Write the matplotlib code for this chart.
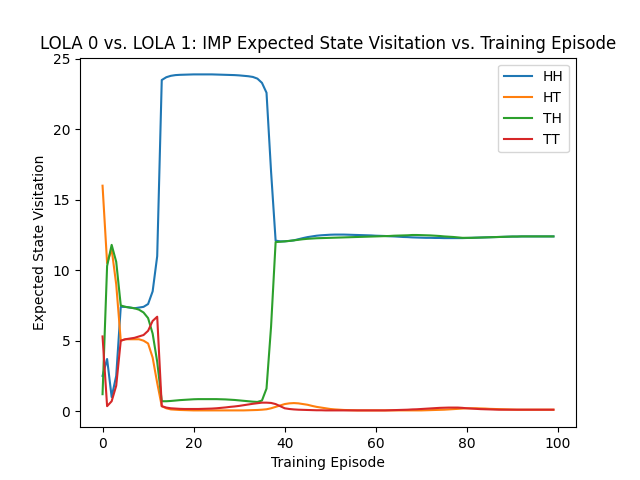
import matplotlib
matplotlib.use("Agg")
import matplotlib.pyplot as plt

episodes = list(range(100))
hh = [2.5, 3.7, 1.0, 2.5, 7.4, 7.4, 7.35, 7.3, 7.35, 7.4, 7.6, 8.5, 11.0, 23.5,
      23.7, 23.8, 23.85, 23.87, 23.88, 23.89, 23.9, 23.9, 23.9, 23.9, 23.9, 23.89, 23.88,
      23.87, 23.86, 23.85, 23.83, 23.8, 23.77, 23.72, 23.6, 23.3, 22.6, 17.0, 12.1,
      12.05, 12.05, 12.08, 12.12, 12.2, 12.28, 12.35, 12.4, 12.45, 12.48, 12.5, 12.52,
      12.53, 12.53, 12.53, 12.52, 12.51, 12.5, 12.49, 12.48, 12.47, 12.45, 12.44, 12.43,
      12.41, 12.4, 12.38, 12.36, 12.35, 12.33, 12.32, 12.31, 12.3, 12.3, 12.29, 12.29,
      12.28, 12.28, 12.28, 12.28, 12.28, 12.29, 12.3, 12.31, 12.32, 12.33, 12.34, 12.35,
      12.36, 12.37, 12.38, 12.39, 12.39, 12.4, 12.4, 12.4, 12.4, 12.4, 12.4, 12.4, 12.4]
ht = [16.0, 10.5, 11.5, 9.0, 5.0, 5.1, 5.1, 5.1, 5.1, 5.0, 4.8, 3.8, 2.0, 0.35,
      0.2, 0.12, 0.1, 0.08, 0.07, 0.06, 0.05, 0.05, 0.05, 0.05, 0.05, 0.05, 0.05,
      0.05, 0.05, 0.05, 0.05, 0.05, 0.06, 0.07, 0.08, 0.1, 0.13, 0.2, 0.3, 0.4, 0.5,
      0.55, 0.57, 0.55, 0.5, 0.45, 0.37, 0.3, 0.25, 0.2, 0.15, 0.12, 0.1, 0.08, 0.07,
      0.06, 0.05, 0.05, 0.05, 0.05, 0.05, 0.05, 0.05, 0.05, 0.05, 0.05, 0.05, 0.05,
      0.05, 0.05, 0.05, 0.06, 0.07, 0.08, 0.09, 0.1, 0.12, 0.14, 0.16, 0.18, 0.2,
      0.2, 0.2, 0.19, 0.18, 0.16, 0.15, 0.14, 0.13, 0.12, 0.11, 0.1, 0.1, 0.1, 0.1,
      0.1, 0.1, 0.1, 0.1, 0.1]
th = [1.2, 10.3, 11.8, 10.6, 7.5, 7.4, 7.35, 7.3, 7.2, 7.0, 6.6, 5.5, 3.5, 0.7,
      0.7, 0.72, 0.75, 0.78, 0.8, 0.82, 0.84, 0.85, 0.85, 0.85, 0.85, 0.85, 0.84,
      0.83, 0.81, 0.79, 0.76, 0.73, 0.7, 0.67, 0.65, 0.75, 1.6, 6.0, 12.0, 12.02,
      12.05, 12.08, 12.12, 12.16, 12.2, 12.23, 12.25, 12.27, 12.28, 12.29, 12.3, 12.31,
      12.32, 12.33, 12.34, 12.35, 12.36, 12.37, 12.38, 12.39, 12.4, 12.41, 12.42,
      12.43, 12.45, 12.46, 12.47, 12.48, 12.5, 12.5, 12.49, 12.48, 12.47, 12.45, 12.43,
      12.4, 12.38, 12.36, 12.33, 12.3, 12.3, 12.3, 12.31, 12.32, 12.33, 12.34, 12.35,
      12.36, 12.37, 12.38, 12.39, 12.39, 12.4, 12.4, 12.4, 12.4, 12.4, 12.4, 12.4, 12.4]
tt = [5.3, 0.35, 0.7, 1.8, 5.0, 5.1, 5.15, 5.2, 5.3, 5.4, 5.7, 6.4, 6.7, 0.35,
      0.25, 0.2, 0.18, 0.16, 0.15, 0.15, 0.15, 0.15, 0.16, 0.17, 0.18, 0.2, 0.23,
      0.26, 0.3, 0.33, 0.37, 0.42, 0.47, 0.52, 0.56, 0.6, 0.6, 0.58, 0.5, 0.35, 0.2,
      0.15, 0.12, 0.1, 0.09, 0.08, 0.07, 0.06, 0.06, 0.05, 0.05, 0.05, 0.05, 0.05,
      0.05, 0.05, 0.05, 0.05, 0.05, 0.05, 0.05, 0.05, 0.05, 0.06, 0.07, 0.08, 0.09,
      0.1, 0.12, 0.13, 0.15, 0.17, 0.19, 0.21, 0.23, 0.24, 0.25, 0.25, 0.25, 0.23, 0.2,
      0.18, 0.16, 0.14, 0.13, 0.12, 0.11, 0.1, 0.1, 0.1, 0.1, 0.1, 0.1, 0.1, 0.1,
      0.1, 0.1, 0.1, 0.1, 0.1]

fig, ax = plt.subplots(figsize=(6.4, 4.8), dpi=100)
for name, vals in [("HH", hh), ("HT", ht), ("TH", th), ("TT", tt)]:
    ax.plot(episodes, vals, label=name)
ax.set_title("LOLA 0 vs. LOLA 1: IMP Expected State Visitation vs. Training Episode")
ax.set_xlabel("Training Episode")
ax.set_ylabel("Expected State Visitation")
ax.legend(loc="upper right")
fig.savefig("out.png")
